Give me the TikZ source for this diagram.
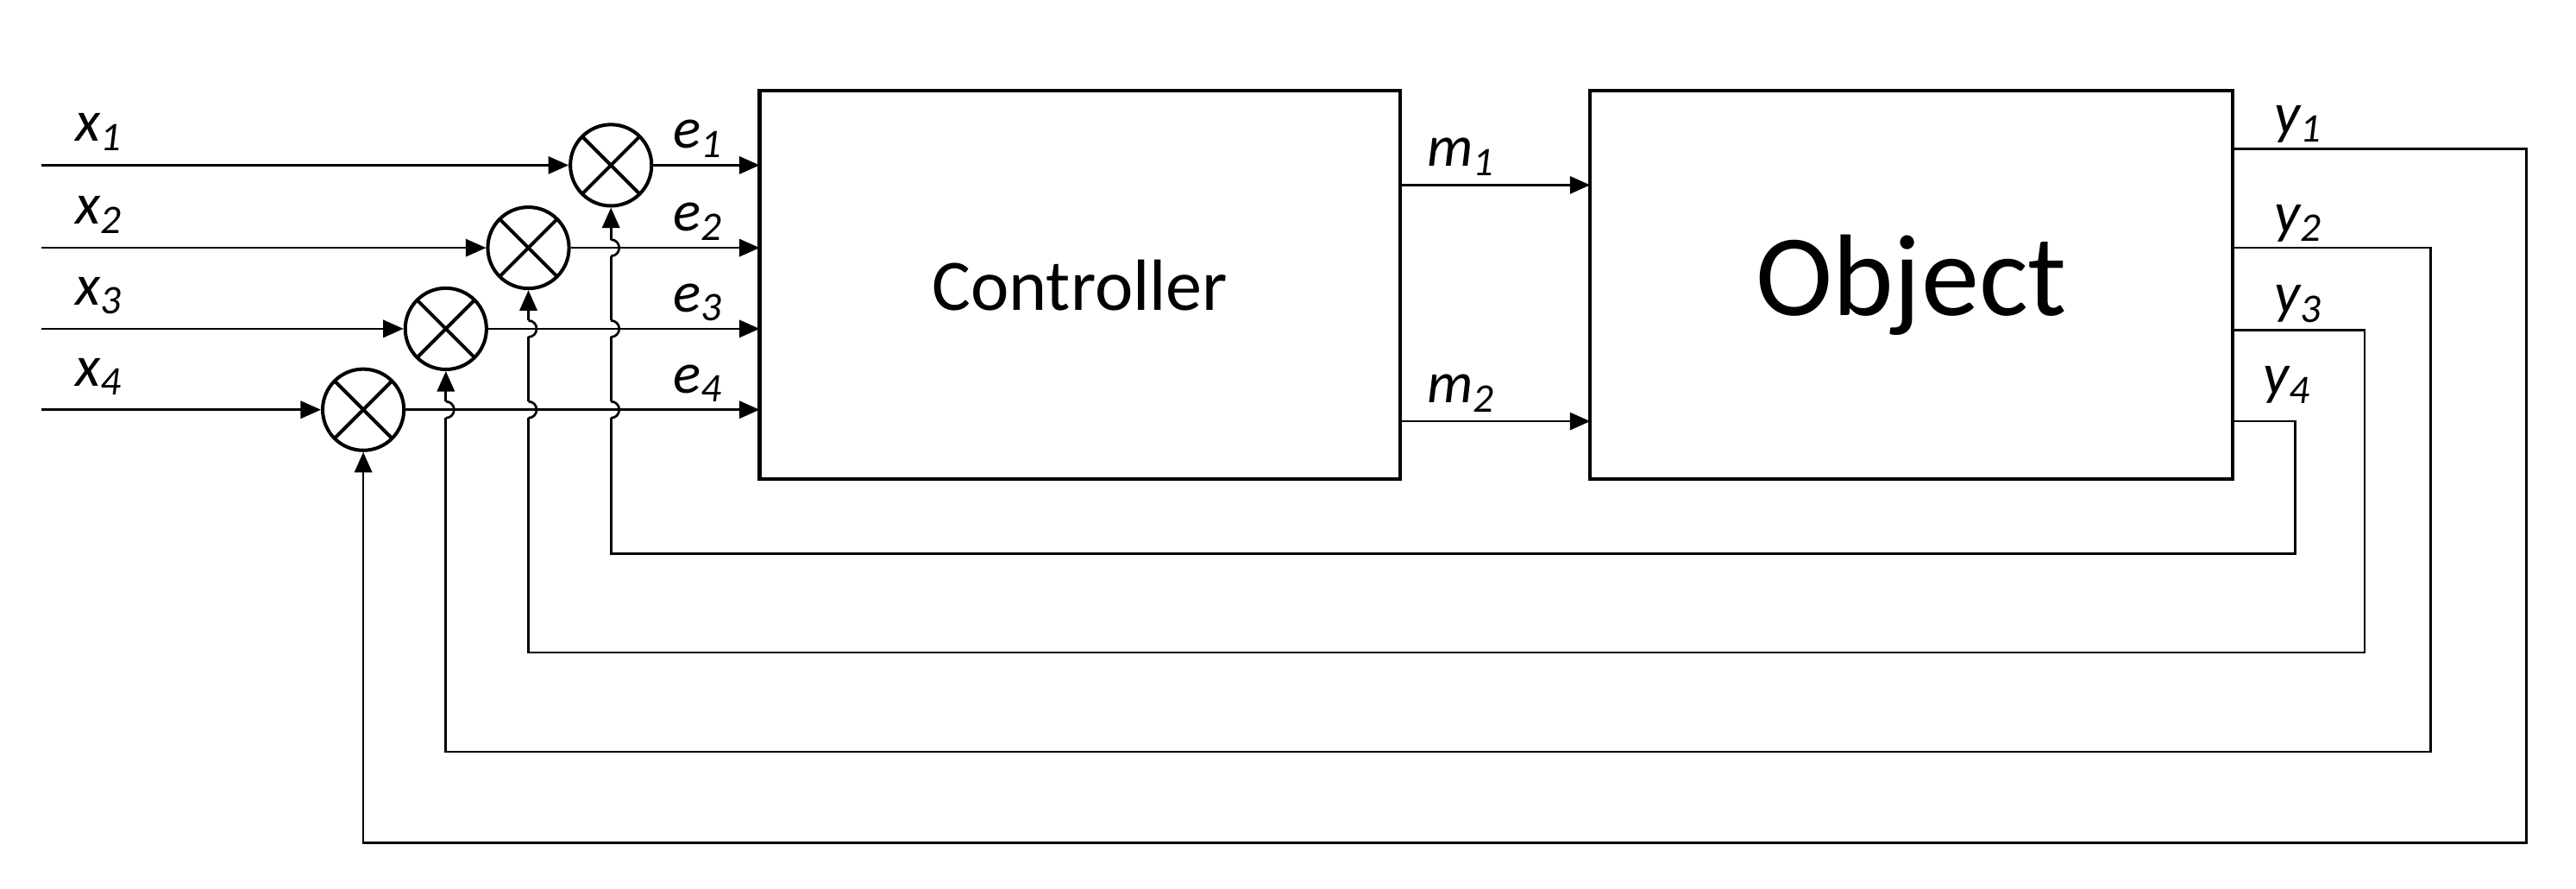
\documentclass[tikz,border=0pt]{standalone}
\usepackage{fontspec}
\setmainfont{Carlito}
\usetikzlibrary{arrows.meta}
\tikzset{
  sig/.style={line width=0.8pt,-{Triangle[length=7pt,width=6pt]}},
  wire/.style={line width=0.8pt},
  blk/.style={draw,line width=1.2pt,inner sep=0pt},
  summer/.style={draw,circle,line width=1.2pt,minimum size=28pt,inner sep=0pt,
    path picture={\draw[line width=1.2pt] (path picture bounding box.south west)--(path picture bounding box.north east)
      (path picture bounding box.north west)--(path picture bounding box.south east);}},
  lbl/.style={font=\fontsize{20}{20}\selectfont\itshape,inner sep=0pt}
}
\newcommand{\sigl}[2]{#1\textsubscript{#2}}
\begin{document}
\begin{tikzpicture}[x=0.02cm,y=-0.02cm]
  \useasboundingbox (0,0) rectangle (1560,538);
  % Blocks
  \node[blk,minimum width=388*0.02cm,minimum height=235*0.02cm] (ctrl) at (654,172.5)
    {\fontsize{25}{25}\selectfont Controller};
  \node[blk,minimum width=389*0.02cm,minimum height=235*0.02cm] (obj) at (1157.5,172.5)
    {\fontsize{40}{40}\selectfont Object};
  % Summing points
  \node[summer] (s1) at (370,100) {};
  \node[summer] (s2) at (320,150) {};
  \node[summer] (s3) at (270,199) {};
  \node[summer] (s4) at (220,248) {};
  % Inputs
  \foreach \i/\y in {1/100,2/150,3/199,4/248} {
    \coordinate (in\i) at (25,\y);
    \draw[sig] (in\i) -- (s\i);
    \node[lbl] at (60,\y-20) {\sigl{x}{\i}};
    \draw[sig] (s\i) -- (460,\y);
    \node[lbl] at (423,\y-16) {\sigl{e}{\i}};
  }
  % Controller to object
  \draw[sig] (848,112) -- (963,112);
  \draw[sig] (848,255) -- (963,255);
  \node[lbl] at (885,95) {\sigl{m}{1}};
  \node[lbl] at (885,238) {\sigl{m}{2}};
  % Outputs
  \node[lbl] at (1392,75) {\sigl{y}{1}};
  \node[lbl] at (1392,135) {\sigl{y}{2}};
  \node[lbl] at (1392,184) {\sigl{y}{3}};
  \node[lbl] at (1385,233) {\sigl{y}{4}};
  % Feedback
  \draw[sig] (1352,90) -| (1530,510) -| (s4.south);
  \draw[wire] (1352,150) -| (1472,455) -| (270,253);
  \draw[sig] (270,243) -- (s3.south);
  \draw[wire] (1352,200) -| (1432,395) -| (320,253);
  \draw[sig] (320,194) -- (s2.south);
  \draw[wire] (1352,255) -| (1390,335) -| (370,253);
  \draw[sig] (370,145) -- (s1.south);
  % Hops
  \foreach \x/\y in {270/248,320/248,320/199,370/248,370/199,370/150}
    \draw[wire] (\x,\y+5) arc[start angle=-90,end angle=90,radius=0.1cm];
  \draw[wire] (320,243) -- (320,204);
  \draw[wire] (370,243) -- (370,204);
  \draw[wire] (370,194) -- (370,155);
\end{tikzpicture}
\end{document}
